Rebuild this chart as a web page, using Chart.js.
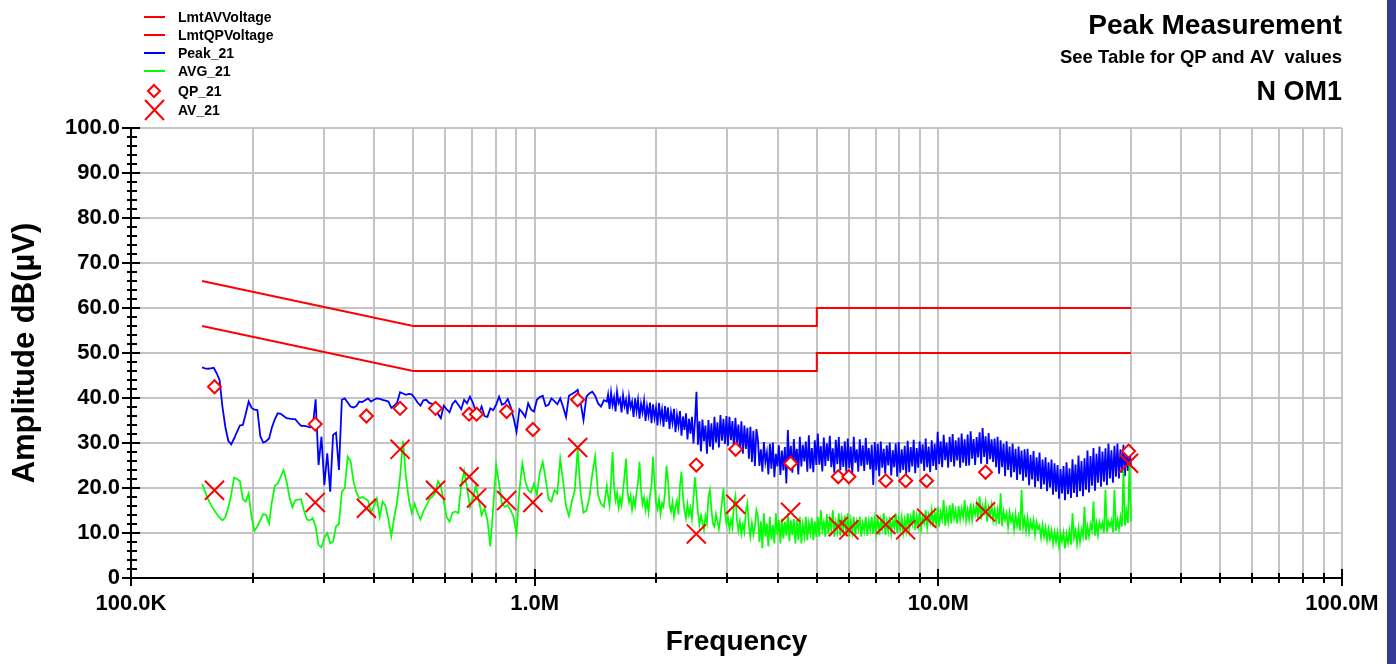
<!DOCTYPE html>
<html>
<head>
<meta charset="utf-8">
<script src="https://cdn.jsdelivr.net/npm/chart.js@4.4.1/dist/chart.umd.min.js"></script>
<style>
  html, body { margin: 0; padding: 0; background: #fff; }
  #wrap { position: relative; width: 1396px; height: 664px; overflow: hidden; }
  #edge { position: absolute; left: 1387px; top: 0; width: 9px; height: 664px; background: #363a96; }
</style>
</head>
<body>
<div id="wrap">
  <canvas id="emiChart" width="1396" height="664"></canvas>
  <div id="edge"></div>
</div>
<script>
// limit lines (MHz / dBuV)
const lmtFreqMHz = [0.15, 0.5, 5, 5, 30];
const lmtAvValues = [56, 46, 46, 50, 50];
const lmtQpValues = [66, 56, 56, 60, 60];

// sweep part 1: 150 kHz .. 1.509 MHz, log spaced
const lowStartHz = 150e3;
const lowStopHz = 1.509e6;
const peakLow = [
  46.8,46.6,46.5,46.6,46.7,45.5,44.0,38.0,33.5,30.5,
  29.7,31.0,32.5,33.9,34.0,36.5,39.2,37.8,37.4,37.3,
  31.5,30.1,30.4,31.0,33.5,35.3,36.6,36.5,36.0,35.5,
  35.4,35.3,35.3,34.5,33.8,33.8,33.7,33.5,33.6,39.7,
  25.1,31.4,20.7,27.7,19.2,31.8,32.3,24.0,39.6,39.9,
  39.0,38.1,37.9,38.2,39.2,39.1,39.5,39.9,39.2,39.6,
  39.9,39.8,39.6,39.4,39.2,37.8,38.3,39.0,41.3,41.0,
  40.7,40.9,40.8,40.0,39.0,38.3,39.5,39.6,38.9,38.7,
  38.4,36.5,35.5,38.3,37.5,36.8,38.7,39.4,38.5,37.5,
  39.6,38.8,40.3,39.0,37.0,36.5,38.1,36.0,35.8,37.7,
  37.3,38.5,40.3,38.5,38.8,39.8,38.0,35.5,32.5,37.5,
  36.8,35.8,38.8,37.4,37.0,39.6,40.2,40.5,38.2,38.5,
  39.9,39.3,38.6,39.9,38.0,35.8,40.5,40.9,41.3,41.8,
  39.0,35.1,40.3,41.0,41.4,40.5,38.8,38.1,39.5,39.2
];
const avgLow = [
  20.9,19.2,17.6,16.3,15.2,14.3,13.4,12.8,13.5,15.6,
  18.5,22.3,22.0,21.5,17.5,17.0,18.8,13.5,10.5,11.5,
  12.8,14.2,14.0,12.1,17.0,20.5,21.0,22.5,24.0,21.5,
  18.0,15.7,17.3,17.4,17.5,15.0,13.0,12.8,13.3,11.4,
  7.3,6.8,9.0,10.0,7.7,8.1,11.5,12.0,19.2,19.9,
  27.0,26.0,21.5,19.0,17.7,18.0,17.6,17.2,14.5,16.0,
  17.7,13.5,17.0,16.0,13.0,9.3,13.5,17.0,22.5,30.5,
  22.5,17.5,14.4,16.5,14.5,13.0,14.8,16.0,17.5,18.0,
  18.8,21.5,20.5,17.0,13.5,12.5,14.5,14.8,14.4,20.5,
  23.8,20.0,15.8,17.8,20.5,17.5,14.0,15.5,12.9,7.0,
  15.8,25.0,21.0,16.5,15.8,16.2,15.0,13.5,9.8,19.6,
  25.5,21.5,19.5,19.0,21.0,18.5,23.5,25.8,22.0,17.5,
  17.0,19.5,18.8,26.5,21.5,16.0,13.8,17.0,19.5,28.8,
  19.0,14.5,15.0,17.8,23.0,27.0,18.5,16.5,15.8,20.5
];

// sweep part 2: 1.52 MHz .. 30 MHz, log spaced, finer step
const highStartHz = 1.52e6;
const highStopHz = 30e6;
const peakHigh = [
  40.8,37.6,41.2,38.4,40.1,37.0,41.4,38.9,39.8,36.8,40.6,38.2,39.6,36.4,40.3,37.9,39.2,35.8,39.9,37.1,
  39.6,35.4,38.7,36.8,39.4,34.9,38.2,36.1,39.0,34.4,38.6,35.6,37.8,33.9,38.9,35.2,37.4,33.6,38.2,34.7,
  37.9,33.1,36.8,34.5,37.6,32.4,36.2,33.8,37.1,31.6,35.9,32.9,36.6,30.8,35.4,32.1,35.8,29.9,34.9,41.4,
  29.6,34.8,28.1,35.2,30.4,33.9,27.6,35.1,29.2,34.4,28.5,35.8,30.1,34.6,29.0,36.2,30.5,35.4,29.8,36.0,
  29.4,35.8,30.6,34.9,28.8,35.6,29.9,34.1,28.2,34.8,27.6,33.9,28.7,33.4,26.5,33.6,25.8,32.7,24.9,33.1,
  30.7,24.9,28.6,23.6,30.2,25.8,27.9,23.0,29.8,24.3,30.1,22.4,27.6,24.8,29.5,22.9,28.3,23.9,29.1,21.0,
  32.9,24.6,29.4,23.4,30.9,25.7,28.7,23.0,31.4,24.8,29.6,25.9,30.3,23.6,31.7,24.3,28.9,23.5,30.6,25.1,
  32.1,25.2,29.3,23.7,31.2,24.9,29.9,26.0,31.6,24.6,28.8,23.4,30.7,25.3,31.3,23.9,29.4,24.7,30.4,23.6,
  31.0,24.4,29.2,23.2,31.4,25.6,28.6,23.6,30.8,24.9,29.5,23.8,31.1,25.2,28.9,24.1,29.6,20.7,30.2,23.9,
  29.8,22.6,30.3,24.5,28.7,23.2,29.5,25.0,30.1,22.8,28.4,24.6,29.9,22.5,30.2,23.4,28.6,24.0,29.4,23.1,
  30.5,23.5,29.1,24.8,30.7,23.3,28.9,24.5,30.4,25.4,29.7,23.8,31.0,24.6,29.2,23.5,30.6,24.9,29.8,24.0,
  32.5,25.3,30.4,24.6,31.8,26.2,30.1,24.5,31.4,25.8,32.0,24.8,30.6,26.1,31.2,24.5,32.1,25.6,30.8,24.9,
  31.9,25.0,32.6,26.5,30.9,25.1,31.3,26.8,32.4,25.4,33.3,26.9,31.5,25.3,32.2,26.4,30.8,25.8,31.0,24.6,
  31.4,23.2,30.6,24.6,29.8,22.6,30.4,24.0,29.2,22.4,29.9,23.5,28.7,21.8,29.2,23.0,28.3,21.6,28.6,22.4,
  28.7,20.6,27.4,21.9,28.2,20.2,26.8,21.5,27.9,19.8,26.3,20.8,26.8,19.3,25.7,20.1,26.3,18.5,25.5,19.2,
  25.1,17.6,24.2,18.8,24.9,17.3,25.7,18.6,24.4,17.8,26.4,18.9,25.2,18.0,27.2,19.3,26.0,18.2,26.6,19.6,
  28.3,19.0,27.1,20.5,28.9,19.4,27.6,21.2,29.2,20.3,28.1,21.4,28.8,20.6,29.9,22.1,28.4,21.2,29.4,22.5,
  29.9,22.1,28.6,23.4,29.6,22.6,28.4,23.8,29.0,24.6
];
const avgHigh = [
  18.2,16.1,21.5,28.0,20.4,17.2,18.9,15.6,17.8,16.2,19.4,22.8,26.5,19.1,16.8,18.3,15.2,17.6,16.0,19.0,
  21.2,25.8,19.6,16.4,17.9,15.1,17.2,14.6,18.4,20.6,27.0,21.4,16.8,15.3,17.5,14.2,16.6,15.8,19.2,24.9,
  21.8,16.3,14.8,16.9,13.6,15.8,17.2,14.1,20.5,23.6,18.2,14.9,13.2,16.4,14.0,15.6,13.1,17.8,22.4,18.6,
  14.6,11.8,13.9,12.4,10.7,13.8,12.2,18.1,19.6,15.2,12.0,11.4,14.2,12.6,10.9,13.4,16.8,19.9,14.8,12.1,
  13.6,10.8,12.9,11.2,16.4,18.2,13.0,10.4,12.6,9.8,11.9,10.2,14.9,16.6,11.6,9.2,12.2,9.6,11.4,15.1,
  13.8,8.0,12.6,6.6,14.4,9.2,12.1,7.0,13.6,8.5,11.8,7.7,14.4,9.6,12.9,7.7,13.2,8.8,12.5,9.4,
  14.4,8.2,12.8,9.5,13.1,7.7,12.9,8.4,13.6,7.7,11.9,9.3,13.6,8.4,12.2,9.9,13.4,8.4,12.6,9.1,
  13.6,9.2,15.1,10.6,12.4,9.2,14.2,9.8,13.0,10.9,15.1,9.2,12.4,10.3,14.4,9.4,13.2,10.8,13.9,9.6,
  14.4,9.2,12.8,10.2,13.6,9.3,12.5,10.8,13.6,9.2,12.2,10.4,13.6,9.4,12.7,10.6,13.6,9.8,13.2,10.1,
  13.6,9.6,12.9,11.0,14.4,9.6,12.6,10.4,13.6,9.9,12.8,11.2,14.4,10.0,13.2,10.9,13.6,10.1,13.0,10.6,
  14.4,10.7,13.6,12.0,15.1,10.7,13.8,11.4,14.8,10.9,13.5,12.2,15.1,11.2,14.0,12.4,15.1,11.4,14.6,12.0,
  15.8,11.4,14.6,13.0,17.3,11.6,14.9,12.4,16.2,12.1,16.6,13.2,15.0,12.1,16.0,12.9,15.4,13.5,17.3,12.8,
  15.2,13.0,16.6,12.9,15.8,14.1,16.4,13.2,18.1,13.0,16.0,14.6,16.8,12.5,15.6,13.8,16.2,12.9,15.4,12.6,
  15.1,12.0,18.8,11.5,14.8,12.9,14.4,11.2,14.6,12.6,13.9,10.8,14.2,11.6,13.6,10.5,19.6,11.2,13.2,10.4,
  13.4,10.2,12.6,11.0,12.9,9.6,12.4,10.8,11.6,9.0,11.8,9.2,11.2,8.4,10.9,8.6,10.6,7.6,10.2,8.0,
  10.2,7.0,9.9,8.1,10.1,6.6,9.8,7.8,10.5,7.4,14.4,8.9,10.6,7.6,11.0,8.0,10.8,9.2,15.8,8.4,
  11.4,9.2,12.0,10.6,17.0,9.4,12.2,9.6,12.4,11.0,12.3,10.0,19.6,10.2,12.6,11.5,12.8,10.1,19.6,10.4,
  12.9,10.8,13.6,11.4,24.0,11.6,14.8,12.2,25.5,12.6
];

// final measurements
const markFreqMHz = [0.161, 0.286, 0.383, 0.464, 0.568, 0.688, 0.718, 0.852, 0.990, 1.278,
                     2.514, 3.147, 4.306, 5.65, 6.003, 7.41, 8.30, 9.35, 13.09, 29.6];
const qpValues = [42.5, 34.2, 36.0, 37.7, 37.7, 36.4, 36.4, 37.0, 33.0, 39.6,
                  25.1, 28.6, 25.5, 22.5, 22.5, 21.6, 21.6, 21.6, 23.5, 28.2];
const avValues = [19.5, 16.8, 15.5, 28.6, 19.5, 22.5, 17.8, 17.2, 16.8, 29.0,
                  9.8, 16.4, 14.6, 11.4, 10.7, 11.9, 10.7, 13.3, 14.7, 25.5];

// axis ticks
const xDecades = [1e5, 1e6, 1e7, 1e8];
const xDecadeLabels = ['100.0K', '1.0M', '10.0M', '100.0M'];
const titleLines = ['Peak Measurement', 'See Table for QP and AV  values', 'N OM1'];

const FONT = '"Liberation Sans", Arial, Helvetica, sans-serif';
Chart.defaults.font.family = FONT;

const xTickValues = [];
xDecades.forEach((d, i) => {
    if (i === xDecades.length - 1) { xTickValues.push(d); return; }
    for (let m = 1; m <= 9; m++) xTickValues.push(d * m);
});
const yTickValues = [];
for (let v = 0; v <= 100; v += 2) yTickValues.push(v);

function sweep(startHz, stopHz, vals) {
    return vals.map((v, i) => ({
        x: startHz * Math.pow(stopHz / startHz, i / (vals.length - 1)),
        y: v
    }));
}
function pairs(freqs, vals, scale) {
    return vals.map((v, i) => ({ x: freqs[i] * scale, y: v }));
}

const peakData = sweep(lowStartHz, lowStopHz, peakLow).concat(sweep(highStartHz, highStopHz, peakHigh));
const avgData = sweep(lowStartHz, lowStopHz, avgLow).concat(sweep(highStartHz, highStopHz, avgHigh));

const GRID = '#c4c4c4';
const RED = '#ff0000';

const decorations = {
    id: 'decorations',
    afterDraw(chart) {
        const ctx = chart.ctx;
        const xs = chart.scales.x, ys = chart.scales.y;
        const left = chart.chartArea.left, bottom = chart.chartArea.bottom;
        ctx.save();

        // tick marks crossing the axes
        ctx.strokeStyle = '#000';
        ctx.lineWidth = 2;
        ctx.beginPath();
        yTickValues.forEach(v => {
            const y = Math.round(ys.getPixelForValue(v));
            const major = v % 10 === 0;
            ctx.moveTo(left - (major ? 9 : 4), y);
            ctx.lineTo(left + (major ? 9 : 6), y);
        });
        xTickValues.forEach(v => {
            const x = Math.round(xs.getPixelForValue(v));
            const major = xDecades.includes(v);
            ctx.moveTo(x, bottom - (major ? 9 : 5));
            ctx.lineTo(x, bottom + (major ? 8 : 5));
        });
        ctx.stroke();

        // legend
        const rowY = [17, 35, 53, 71, 91, 110];
        ctx.textBaseline = 'middle';
        ctx.textAlign = 'left';
        ctx.font = 'bold 14px ' + FONT;
        chart.data.datasets.forEach((ds, i) => {
            const y = rowY[i];
            ctx.strokeStyle = ds.borderColor;
            ctx.lineWidth = 2;
            ctx.beginPath();
            if (ds.pointStyle === 'rectRot') {
                ctx.moveTo(154, y - 6); ctx.lineTo(160, y); ctx.lineTo(154, y + 6); ctx.lineTo(148, y); ctx.closePath();
            } else if (ds.pointStyle === 'crossRot') {
                ctx.moveTo(145, y - 10); ctx.lineTo(164, y + 10);
                ctx.moveTo(164, y - 10); ctx.lineTo(145, y + 10);
            } else {
                ctx.moveTo(144, y); ctx.lineTo(165, y);
            }
            ctx.stroke();
            ctx.fillStyle = '#000';
            ctx.fillText(ds.label, 178, y + 1);
        });

        // header text
        ctx.textAlign = 'right';
        ctx.fillStyle = '#000';
        ctx.font = 'bold 28px ' + FONT;
        ctx.fillText(titleLines[0], 1342, 26);
        ctx.font = 'bold 18.5px ' + FONT;
        ctx.fillText(titleLines[1], 1342, 58);
        ctx.font = 'bold 27px ' + FONT;
        ctx.fillText(titleLines[2], 1342, 93);
        ctx.restore();
    }
};

new Chart(document.getElementById('emiChart'), {
    type: 'line',
    data: {
        datasets: [
            { label: 'LmtAVVoltage', data: pairs(lmtFreqMHz, lmtAvValues, 1e6),
              borderColor: RED, borderWidth: 2, pointRadius: 0, order: 5 },
            { label: 'LmtQPVoltage', data: pairs(lmtFreqMHz, lmtQpValues, 1e6),
              borderColor: RED, borderWidth: 2, pointRadius: 0, order: 5 },
            { label: 'Peak_21', data: peakData,
              borderColor: '#0000ff', borderWidth: 1.8, pointRadius: 0, order: 4 },
            { label: 'AVG_21', data: avgData,
              borderColor: '#00ff00', borderWidth: 1.7, pointRadius: 0, order: 3 },
            { label: 'QP_21', data: pairs(markFreqMHz, qpValues, 1e6), showLine: false,
              pointStyle: 'rectRot', pointRadius: 6.5, borderColor: RED, backgroundColor: '#fff',
              borderWidth: 2, order: 1 },
            { label: 'AV_21', data: pairs(markFreqMHz, avValues, 1e6), showLine: false,
              pointStyle: 'crossRot', pointRadius: 13.5, borderColor: RED, backgroundColor: RED,
              borderWidth: 2, order: 0 }
        ]
    },
    options: {
        responsive: false,
        animation: false,
        devicePixelRatio: 1,
        events: [],
        layout: { padding: { top: 128, right: 54, left: 0, bottom: 0 } },
        elements: { line: { tension: 0 } },
        plugins: { legend: { display: false }, tooltip: { enabled: false } },
        scales: {
            x: {
                type: 'logarithmic',
                min: 1e5,
                max: 1e8,
                afterFit(scale) { scale.height = 86; },
                afterBuildTicks(scale) { scale.ticks = xTickValues.map(v => ({ value: v })); },
                grid: {
                    color: c => (c.tick && c.tick.value === 1e5) ? 'rgba(0,0,0,0)' : GRID,
                    lineWidth: 2,
                    drawTicks: false
                },
                border: { color: '#000', width: 2 },
                ticks: {
                    autoSkip: false, maxRotation: 0, padding: 13, color: '#000',
                    font: { size: 22, weight: 'bold' },
                    callback: v => {
                        const k = xDecades.indexOf(v);
                        return k >= 0 ? xDecadeLabels[k] : '';
                    }
                },
                title: {
                    display: true, text: 'Frequency', color: '#000',
                    font: { size: 28, weight: 'bold' }, padding: { top: 0, bottom: 5 }
                }
            },
            y: {
                min: 0,
                max: 100,
                afterFit(scale) { scale.width = 131; },
                afterBuildTicks(scale) { scale.ticks = yTickValues.map(v => ({ value: v })); },
                grid: {
                    color: c => (c.tick && c.tick.value % 10 === 0 && c.tick.value !== 0) ? GRID : 'rgba(0,0,0,0)',
                    lineWidth: 2,
                    drawTicks: false
                },
                border: { color: '#000', width: 2 },
                ticks: {
                    autoSkip: false, padding: 11, color: '#000',
                    font: { size: 22, weight: 'bold' },
                    callback: v => v % 10 === 0 ? (v === 0 ? '0' : v.toFixed(1)) : ''
                },
                title: {
                    display: true, text: 'Amplitude dB(µV)', color: '#000',
                    font: { size: 31, weight: 'bold' }, padding: { top: 7, bottom: 0 }
                }
            }
        }
    },
    plugins: [decorations]
});
</script>
</body>
</html>
